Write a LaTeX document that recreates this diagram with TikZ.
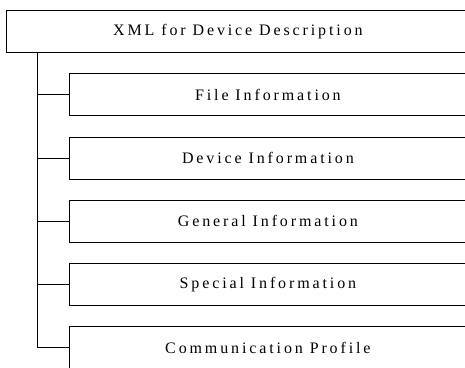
\documentclass[tikz,border=0pt]{standalone}
\usepackage{fontspec}
\setmainfont{Liberation Serif}[LetterSpace=18]
\begin{document}
\begin{tikzpicture}[x=1pt,y=-1pt,
  line width=0.8pt,
  rootbox/.style={draw, rectangle, anchor=west, minimum width=463pt, minimum height=42pt,
                  inner sep=0pt, font=\fontsize{16}{19}\selectfont},
  itembox/.style={draw, rectangle, anchor=west, minimum width=397pt, minimum height=42pt,
                  inner sep=0pt, font=\fontsize{16}{19}\selectfont},
  link/.style={draw, line width=0.8pt}]
\useasboundingbox (0,0) rectangle (465,367);
\clip (0,0) rectangle (465,367);

% root element
\node[rootbox] (root) at (6,31.7) {XML for Device Description};

% child elements
\node[itembox] (file)    at (69,94.7)  {File Information};
\node[itembox] (device)  at (69,157.9) {Device Information};
\node[itembox] (general) at (69,221.0) {General Information};
\node[itembox] (special) at (69,284.2) {Special Information};
\node[itembox] (comm)    at (69,347.7) {Communication Profile};

% trunk from the root down to the last child
\coordinate (trunktop) at ([xshift=31.3pt]root.south west);
\coordinate (trunkend) at (trunktop |- comm.west);
\draw[link] (trunktop) -- (trunkend);

% branches to each child
\foreach \c in {file,device,general,special,comm}
  \draw[link] (trunktop |- \c.west) -- (\c.west);
\end{tikzpicture}
\end{document}
